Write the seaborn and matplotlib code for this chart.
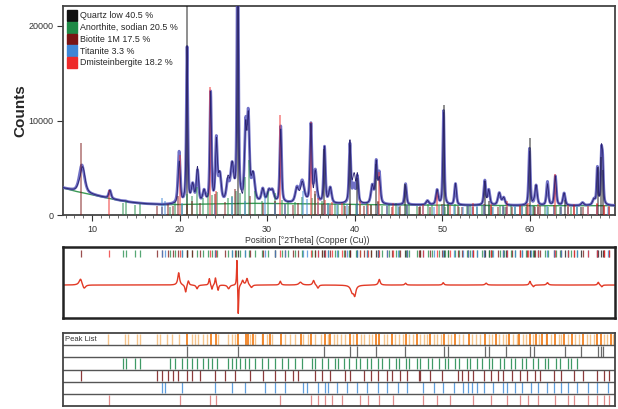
import numpy as np
import pandas as pd
import matplotlib
matplotlib.use("Agg")
import matplotlib.pyplot as plt
from matplotlib.patches import Patch
import seaborn as sns

# ---- data ----
phase_names = ["Quartz low 40.5 %", "Anorthite, sodian 20.5 %", "Biotite 1M 17.5 %",
               "Titanite 3.3 %", "Dmisteinbergite 18.2 %"]
phase_colors = ["#111111", "#1e8a46", "#7a1414", "#3f86d6", "#ee2a2a"]
row_colors = ["#6a6a6a", "#3f9a66", "#8c3a3a", "#5d9ddc", "#e08a8a"]

# background (green line)
bg_pos = [6.7, 8.0, 10.0, 12.0, 14.0, 16.0, 18.0, 22.0, 28.0, 35.0, 42.0, 50.0, 60.0, 69.7]
bg_counts = [2870, 2550, 2150, 1750, 1400, 1200, 1100, 1150, 1250, 1200, 1100, 1050, 1000, 1000]

# observed peaks: position, top counts, width
obs_pos = [8.85, 12.05, 13.8, 14.9, 19.95, 20.86, 21.5, 22.05, 22.8, 23.55, 24.2, 24.6, 25.5,
           26.0, 26.64, 27.55, 27.85, 28.4, 29.5, 30.2, 30.6, 31.55, 33.4, 34.0, 35.0, 35.5,
           36.55, 37.2, 39.45, 39.9, 40.3, 42.0, 42.45, 42.8, 45.8, 48.3, 49.4, 50.14, 51.5,
           54.85, 55.3, 56.5, 57.0, 59.95, 60.7, 62.0, 62.9, 63.9, 66.0, 67.3, 67.7, 68.15, 68.3]
obs_top = [5300, 2600, 1500, 1300, 6600, 17600, 3000, 4500, 2400, 12800, 7800, 4000, 3200,
           5000, 30000, 8800, 9800, 4000, 2600, 2400, 2400, 9300, 2700, 3500, 9400, 4500,
           7100, 2800, 7400, 3000, 3900, 3000, 5400, 4300, 3300, 1500, 2600, 11000, 3300,
           3600, 2600, 2300, 1800, 7000, 3100, 3500, 4100, 2300, 1300, 1600, 4900, 6000, 5200]
obs_width = [0.35, 0.16, 0.2, 0.2, 0.15, 0.1, 0.18, 0.15, 0.18, 0.11, 0.13, 0.18, 0.18,
             0.22, 0.1, 0.15, 0.15, 0.22, 0.18, 0.22, 0.22, 0.12, 0.22, 0.28, 0.12, 0.18,
             0.12, 0.18, 0.12, 0.18, 0.13, 0.18, 0.13, 0.15, 0.13, 0.18, 0.15, 0.1, 0.13,
             0.13, 0.15, 0.18, 0.18, 0.11, 0.15, 0.13, 0.13, 0.15, 0.18, 0.18, 0.1, 0.1, 0.1]

# difference curve features
diff_pos = [8.7, 9.1, 19.9, 20.7, 21.0, 22.0, 23.4, 23.7, 24.1, 24.4, 25.6, 26.55, 26.7,
            27.2, 27.7, 28.2, 31.5, 33.8, 35.3, 35.8, 39.7, 40.0, 42.8, 45.8, 50.1, 55.0,
            60.0, 60.4, 62.0, 67.8, 68.2]
diff_amp = [700, -450, 1300, -800, 500, -400, 700, -500, 800, -600, -400, 2900, -3300,
            500, 700, -300, 400, 300, 500, -350, -700, -1000, 600, 200, 250, 200,
            400, -200, 250, 300, -200]
diff_width = [0.2, 0.2, 0.12, 0.1, 0.1, 0.12, 0.08, 0.08, 0.08, 0.08, 0.15, 0.05, 0.05,
              0.12, 0.12, 0.15, 0.1, 0.2, 0.12, 0.12, 0.2, 0.15, 0.12, 0.1, 0.1, 0.12,
              0.1, 0.1, 0.12, 0.1, 0.1]

# reference sticks for each phase
quartz_pos = [20.86, 26.64, 36.54, 39.47, 40.29, 42.45, 45.79, 50.14, 50.62, 54.87, 55.33,
              57.24, 59.96, 60.5, 63.99, 65.79, 67.74, 68.14, 68.31]
quartz_int = [26000, 30000, 7000, 7400, 3900, 5400, 3300, 11600, 1200, 3600, 1500,
              900, 8200, 1000, 1600, 900, 5100, 6200, 4800]
anorthite_pos = [13.6, 13.9, 14.9, 15.5, 18.9, 19.5, 20.3, 20.9, 21.4, 22.0, 22.7, 23.3, 23.7,
                 24.3, 25.5, 26.0, 26.4, 26.9, 27.5, 27.9, 28.6, 29.4, 30.1, 30.9, 31.7, 32.4,
                 33.2, 34.0, 35.1, 35.5, 36.3, 37.0, 37.7, 38.1, 38.8, 39.3, 40.1, 40.6, 41.4,
                 41.9, 42.7, 43.1, 43.9, 44.7, 45.1, 45.8, 46.2, 47.1, 47.5, 48.4, 48.8, 49.6,
                 50.3, 50.7, 51.5, 51.9, 52.8, 53.2, 54.0, 54.5, 55.3, 55.7, 56.6, 57.0, 57.8,
                 58.3, 59.1, 59.6, 60.4, 60.9, 61.7, 62.1, 63.0, 63.4, 64.3, 64.7, 65.4]
anorthite_int = [1300, 1500, 1100, 1200, 900, 1400, 1100, 2200, 2000, 3000, 1800, 2300, 2100,
                 2400, 1800, 2000, 2500, 2300, 4000, 5800, 2500, 1500, 2600, 2300, 1600, 1500,
                 1400, 1900, 1800, 2200, 1500, 1300, 1200, 1100, 1300, 1000, 1200, 1100, 1300,
                 1100, 1400, 1000, 1200, 1300, 900, 1100, 1200, 1000, 900, 1200, 1100, 1000,
                 900, 1100, 1200, 900, 1000, 1100, 900, 1000, 1100, 900, 1000, 900, 1100,
                 900, 1000, 900, 1000, 900, 1000, 900, 1000, 900, 900, 900, 900]
biotite_pos = [8.8, 17.4, 18.0, 18.7, 19.3, 19.8, 20.9, 21.4, 22.3, 24.1, 25.2, 26.3, 28.0,
               29.5, 30.9, 32.0, 33.0, 33.5, 35.5, 36.3, 37.2, 38.9, 39.5, 41.0, 41.8, 42.6,
               43.7, 44.3, 45.2, 46.0, 47.3, 47.5, 48.6, 50.0, 51.8, 52.3, 52.9, 53.5, 54.7,
               55.5, 56.3, 56.9, 58.0, 58.9, 59.7, 60.6, 61.2, 62.7, 63.5, 65.0, 66.1, 67.7,
               68.4, 69.0]
biotite_int = [7600, 1000, 900, 1200, 1000, 2000, 1200, 1500, 1300, 2200, 1400, 2800, 2000,
               1300, 1500, 1200, 1100, 1300, 2500, 1200, 1100, 1000, 1200, 1000, 1100, 1500,
               1000, 900, 1000, 1100, 900, 1000, 900, 1200, 1000, 900, 1000, 900, 1200,
               1000, 900, 1000, 900, 1000, 1200, 900, 1000, 1100, 900, 1000, 900, 1200,
               1000, 900]
titanite_pos = [18.0, 18.3, 20.3, 24.1, 26.0, 27.5, 29.8, 30.9, 32.0, 34.1, 34.5, 35.8, 36.6,
                36.9, 38.0, 39.1, 40.3, 41.4, 42.7, 43.7, 44.9, 46.0, 47.8, 49.0, 50.1, 51.3,
                52.4, 52.9, 53.4, 54.0, 54.7, 55.8, 56.9, 57.4, 58.3, 59.1, 60.1, 60.9, 62.0,
                62.7, 63.5, 64.4, 65.4, 66.6, 67.7, 68.9]
titanite_int = [1800, 1500, 1300, 1200, 1900, 1500, 2200, 1300, 1200, 2600, 1700, 1400, 1200,
                1300, 1100, 1200, 1300, 1000, 1200, 1100, 1000, 1100, 1000, 900, 1100, 1000,
                900, 1000, 900, 1000, 1100, 900, 1000, 900, 1000, 900, 1100, 900, 1000,
                900, 1000, 900, 1000, 900, 1000, 900]
dmist_pos = [11.9, 20.0, 23.5, 24.2, 31.5, 35.0, 35.8, 36.6, 37.4, 38.6, 40.6, 41.5, 42.8,
             44.4, 47.8, 49.4, 50.9, 53.5, 55.5, 57.4, 58.9, 59.8, 60.9, 62.9, 64.3, 65.0,
             66.6, 67.7, 68.4, 69.0]
dmist_int = [2700, 6400, 13500, 2500, 10600, 9800, 1800, 1600, 1400, 1300, 1500, 1200, 4600,
             1300, 1200, 2400, 1100, 1300, 1200, 1500, 1100, 1300, 1200, 4300, 1100, 1200,
             1000, 1300, 1100, 1000]

# peak list (orange row): strong and weak detected peaks
peaks_strong = [20.86, 23.55, 24.2, 26.64, 27.6, 27.85, 31.55, 35.0, 36.55, 39.45, 40.3,
                42.45, 42.8, 45.8, 50.14, 51.5, 54.85, 59.95, 60.7, 62.0, 62.9, 67.7, 68.15,
                28.4, 29.5, 30.3, 33.9, 37.2, 44.2, 47.1, 48.6, 53.0, 56.1, 57.6, 58.8, 61.4,
                63.9, 64.8, 66.1, 69.2]
peaks_weak = [11.8, 13.8, 14.1, 15.1, 15.5, 17.4, 17.8, 18.6, 19.1, 19.95, 21.4, 21.8, 22.1,
              22.7, 23.1, 24.4, 25.5, 26.0, 26.3, 28.0, 28.6, 29.4, 30.0, 30.6, 32.0, 32.6,
              33.2, 34.1, 34.7, 35.5, 36.1, 36.9, 37.6, 38.0, 38.4, 38.9, 39.8, 40.7, 41.1,
              41.6, 42.0, 43.3, 43.7, 44.6, 45.1, 45.5, 46.2, 46.6, 47.5, 47.9, 48.2, 49.0,
              49.4, 49.8, 50.6, 51.0, 51.9, 52.4, 53.4, 53.8, 54.3, 55.3, 55.7, 56.5, 56.9,
              57.3, 58.1, 58.5, 59.2, 59.6, 60.3, 61.0, 61.8, 62.4, 63.3, 63.6, 64.3, 65.2,
              65.6, 66.5, 66.9, 67.3, 68.5, 68.8, 69.5]

xmin, xmax = 6.7, 69.7

# ---- build curves ----
x = np.arange(xmin, xmax + 0.005, 0.01)
bg = np.interp(x, bg_pos, bg_counts)
obs = bg.copy()
for p, top, w in zip(obs_pos, obs_top, obs_width):
    h = top - np.interp(p, bg_pos, bg_counts)
    u = (x - p) / w
    obs += h * (0.55 / (1 + u ** 2) + 0.45 * np.exp(-np.log(2) * u ** 2))
diff = np.zeros_like(x)
for p, a, w in zip(diff_pos, diff_amp, diff_width):
    diff += a / (1 + ((x - p) / w) ** 2)
calc = obs - diff
df = pd.DataFrame({"pos": x, "obs": obs, "calc": calc, "bg": bg, "diff": diff})

phase_pos = [quartz_pos, anorthite_pos, biotite_pos, titanite_pos, dmist_pos]
phase_int = [quartz_int, anorthite_int, biotite_int, titanite_int, dmist_int]

# ---- figure ----
sns.set_theme(style="white")
plt.rcParams["font.family"] = ["Liberation Sans", "DejaVu Sans"]
fig = plt.figure(figsize=(6.18, 4.09), dpi=100)
ax = fig.add_axes([0.102, 0.474, 0.893, 0.511])
ax_d = fig.add_axes([0.102, 0.2225, 0.893, 0.1735])
ax_p = fig.add_axes([0.102, 0.007, 0.893, 0.179])

# main pattern
sns.lineplot(data=df, x="pos", y="bg", ax=ax, color="#3c9a55", lw=1.0, zorder=2)
sns.lineplot(data=df, x="pos", y="obs", ax=ax, color="#5858bc", lw=2.0, alpha=0.85, zorder=3)
for pos, ints, col in zip(phase_pos, phase_int, phase_colors):
    ax.vlines(pos, 0, ints, colors=col, lw=1.1, alpha=0.6, zorder=4)
sns.lineplot(data=df, x="pos", y="calc", ax=ax, color="#2a2270", lw=0.6, zorder=5)
ax.set_xlim(xmin, xmax)
ax.set_ylim(0, 22100)
ax.set_yticks([0, 10000, 20000])
ax.set_xticks([10, 20, 30, 40, 50, 60])
ax.set_xticks(np.arange(7, 70), minor=True)
ax.tick_params(axis="both", which="major", direction="out", length=4, width=0.8,
               labelsize=6.5, colors="#333333", bottom=True, left=True, pad=3)
ax.tick_params(axis="x", which="minor", direction="out", length=2, width=0.6,
               colors="#555555", bottom=True)
ax.set_xlabel("")
ax.set_ylabel("Counts", fontsize=11, fontweight="bold", labelpad=1)
for s in ax.spines.values():
    s.set_color("#444444")
    s.set_linewidth(1.3)
fig.text(0.497, 0.413, "Position [°2Theta] (Copper (Cu))", fontsize=6.2,
         ha="center", va="center", color="#333333")

handles = [Patch(facecolor=c, edgecolor=c) for c in phase_colors]
ax.legend(handles, phase_names, loc="upper left", frameon=False, fontsize=6.4,
          handlelength=1.1, handleheight=1.5, handletextpad=0.35, labelspacing=0.1,
          borderaxespad=0.25, borderpad=0.2)

# difference panel
sns.lineplot(data=df, x="pos", y="diff", ax=ax_d, color="#e23a26", lw=1.0)
for pos, col in zip(phase_pos, phase_colors):
    ax_d.vlines(pos, 0.86, 0.96, colors=col, lw=0.9, alpha=0.75,
                transform=ax_d.get_xaxis_transform())
ax_d.set_xlim(xmin, xmax)
ax_d.set_ylim(-3470, 4000)
ax_d.set_xticks([])
ax_d.set_yticks([])
ax_d.set_xlabel("")
ax_d.set_ylabel("")
for s in ax_d.spines.values():
    s.set_color("#222222")
    s.set_linewidth(1.8)

# peak list panel, six rows
ax_p.set_xlim(xmin, xmax)
ax_p.set_ylim(0, 6)
ax_p.vlines(peaks_weak, 5.05, 5.95, colors="#f6c48a", lw=1.0)
ax_p.vlines(peaks_strong, 5.05, 5.95, colors="#f08020", lw=1.3)
for i, (pos, col) in enumerate(zip(phase_pos, row_colors)):
    lo = 4 - i
    ax_p.vlines(pos, lo + 0.05, lo + 0.95, colors=col, lw=0.9)
for yy in range(1, 6):
    ax_p.axhline(yy, color="#555555", lw=1.0)
ax_p.text(xmin + 0.2, 5.5, "Peak List", fontsize=5.5, va="center", ha="left",
          color="#333333", bbox=dict(facecolor="white", edgecolor="none", pad=0.5))
ax_p.set_xticks([])
ax_p.set_yticks([])
for s in ax_p.spines.values():
    s.set_color("#444444")
    s.set_linewidth(1.3)

fig.savefig("out.png", dpi=100)
